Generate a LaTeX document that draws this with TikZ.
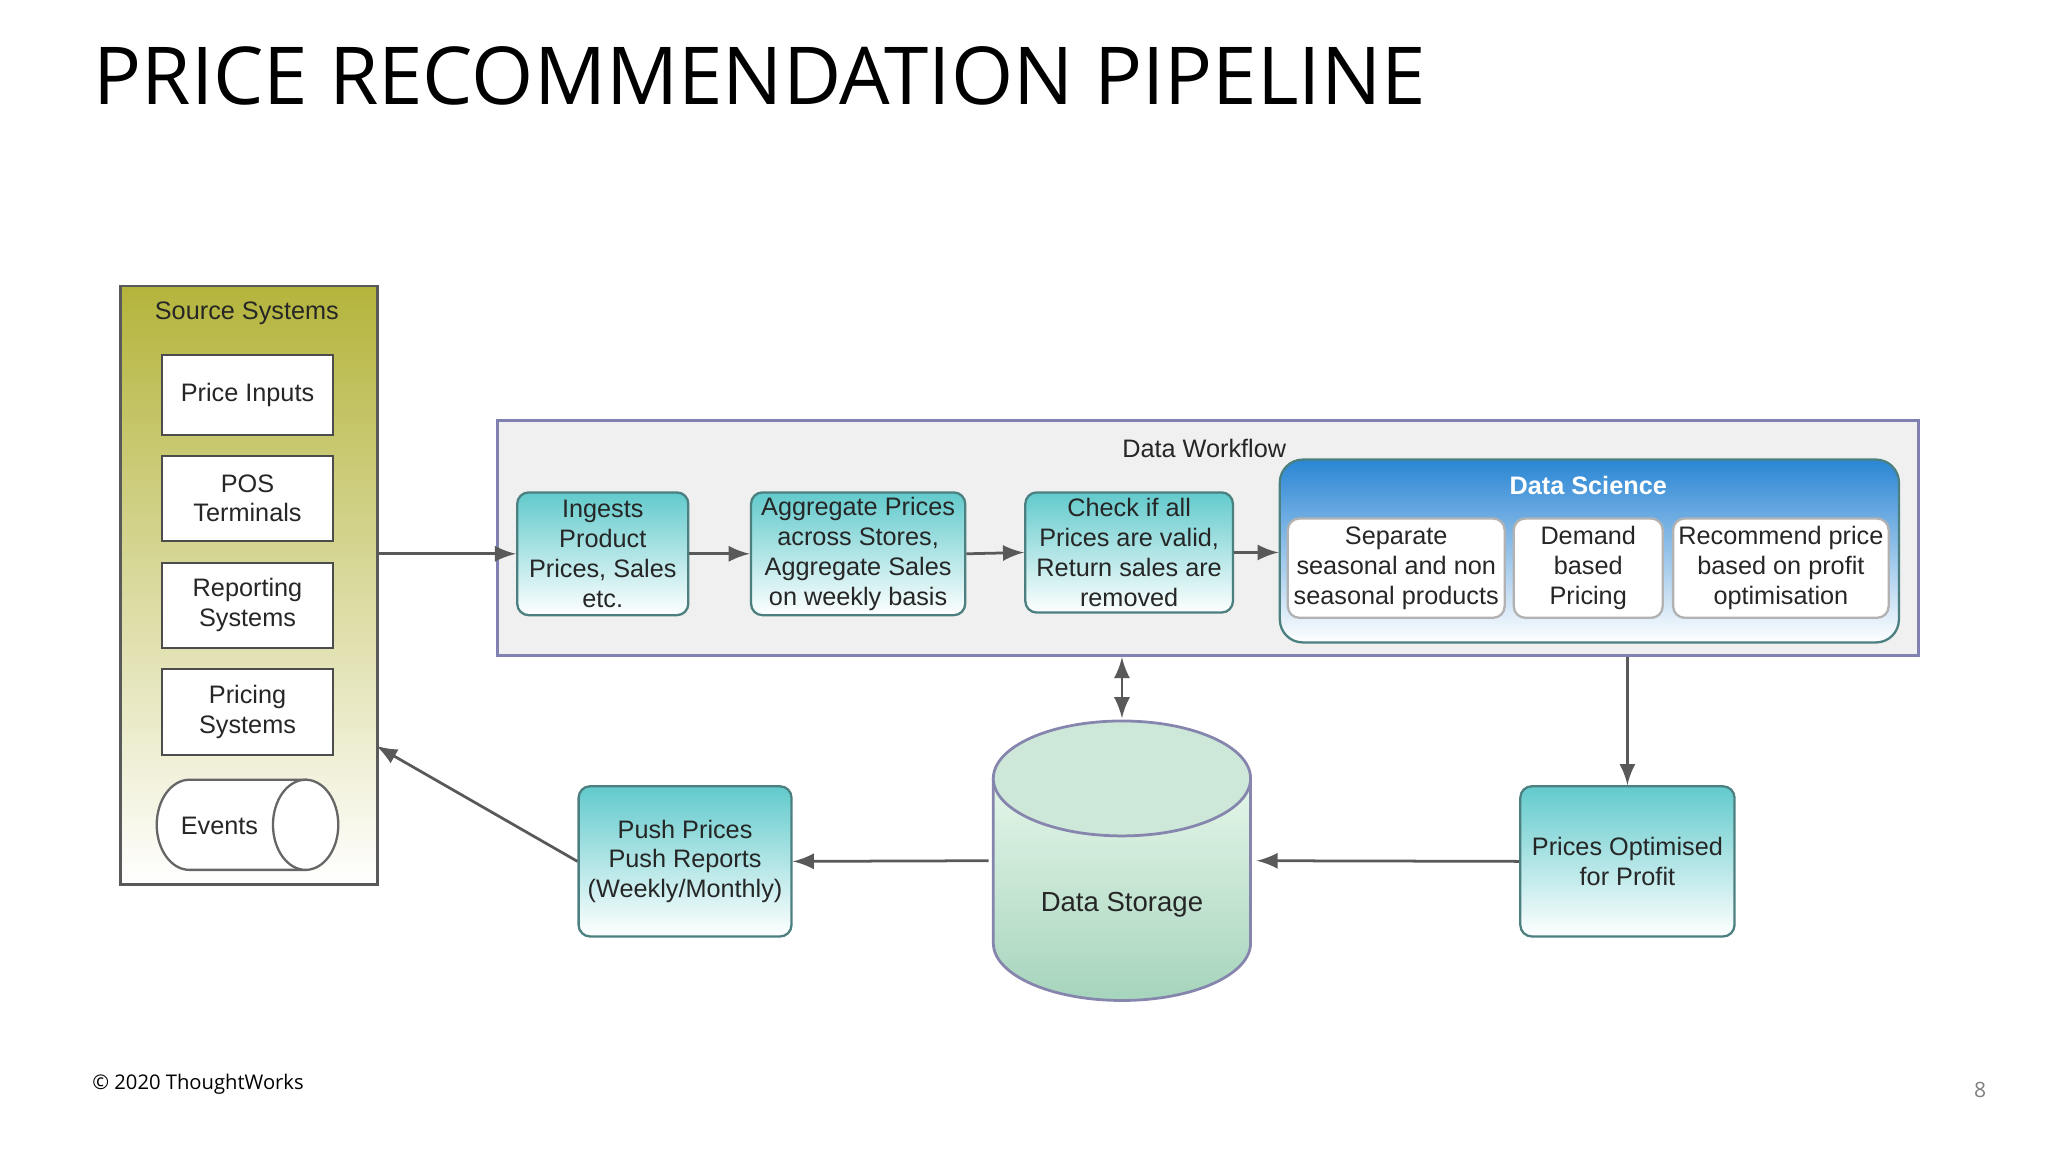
\documentclass[tikz,border=0pt]{standalone}
\usepackage{fontspec}
\setmainfont{Liberation Sans}
\newfontfamily\opensans{Open Sans}
\newdimen\un \un=0.01cm
\definecolor{olivetop}{HTML}{B4B43C}
\definecolor{dsblue}{HTML}{2A86D4}
\definecolor{tealtop}{HTML}{62CACC}
\definecolor{cylbot}{HTML}{A6D4BC}
\definecolor{cyltop}{HTML}{CDE7D8}
\begin{document}
\begin{tikzpicture}[x=0.01cm,y=-0.01cm,
  txt/.style={font=\fontsize{5.5}{6.5}\selectfont, align=center, text=black!85},
  src/.style={draw=black!70, fill=white, line width=0.5pt, txt},
  teal/.style={draw=teal!40!gray, rounded corners=2.5pt, top color=tealtop, bottom color=white, line width=0.5pt, txt, inner sep=1pt},
  ds/.style={draw=gray!60, rounded corners=2.5pt, fill=white, line width=0.5pt, txt, inner sep=1pt},
  arr/.style={-latex, draw=black!65, line width=0.6pt},
]
\useasboundingbox (0,0) rectangle (1568,882);
\node[anchor=base west, font=\opensans\fontsize{17.4}{20}\selectfont, inner sep=0] (title) at (71,80) {PRICE RECOMMENDATION PIPELINE};
% Source systems
\node[draw=black!65, line width=0.6pt, top color=olivetop, bottom color=white, minimum width=197\un, minimum height=458\un, anchor=north west, inner sep=0] (srcbox) at (91,218) {};
\node[txt] (srclab) at (189,240) {Source Systems};
\node[src, minimum width=131\un, minimum height=61\un] (pi) at (189.5,302.5) {Price Inputs};
\node[src, minimum width=131\un, minimum height=65\un] (pos) at (189.5,381.5) {POS\\Terminals};
\node[src, minimum width=131\un, minimum height=65\un] (rep) at (189.5,463.5) {Reporting\\Systems};
\node[src, minimum width=131\un, minimum height=66\un] (pri) at (189.5,545) {Pricing\\Systems};
\filldraw[draw=black!60, fill=white, line width=0.5pt] (145,597) -- (234,597) -- (234,666) -- (145,666) arc[start angle=90,end angle=270,x radius=25,y radius=34.5] -- cycle;
\filldraw[draw=black!60, fill=white, line width=0.5pt] (234,631.5) ellipse (25 and 34.5);
\node[txt] (ev) at (168,632) {Events};
% Data workflow
\node[draw=blue!25!gray!80, fill=gray!12, line width=0.5pt, minimum width=1088\un, minimum height=180\un, anchor=north west, inner sep=0] (wf) at (380,321) {};
\node[txt] (wflab) at (922,343) {Data Workflow};
\node[teal, minimum width=131\un, minimum height=94\un] (ing) at (461.5,424) {Ingests\\Product\\Prices, Sales\\etc.};
\node[teal, minimum width=164\un, minimum height=94\un] (agg) at (657,424) {Aggregate Prices\\across Stores,\\Aggregate Sales\\on weekly basis};
\node[teal, minimum width=159\un, minimum height=92\un] (chk) at (864.5,423) {Check if all\\Prices are valid,\\Return sales are\\removed};
\node[draw=teal!40!gray, rounded corners=5pt, top color=dsblue, bottom color=white, line width=0.5pt, minimum width=474\un, minimum height=140\un, anchor=north west, inner sep=0] (dsbox) at (979,351) {};
\node[txt, text=white, font=\bfseries\fontsize{5.5}{6.5}\selectfont] (dslab) at (1216,372) {Data Science};
\node[ds, minimum width=166\un, minimum height=76\un] (sep) at (1069,435) {Separate\\seasonal and non\\seasonal products};
\node[ds, minimum width=114\un, minimum height=76\un] (dem) at (1216,435) {Demand\\based\\Pricing};
\node[ds, minimum width=165\un, minimum height=76\un] (rec) at (1363.5,435) {Recommend price\\based on profit\\optimisation};
% Data storage
\fill[top color=green!4!white, bottom color=cylbot] (760.5,596) -- (760.5,722) arc[start angle=180,end angle=0,x radius=98.5,y radius=44] -- (957.5,596) arc[start angle=0,end angle=-180,x radius=98.5,y radius=44] -- cycle;
\draw[draw=blue!20!gray!80, line width=0.6pt] (760.5,596) -- (760.5,722) arc[start angle=180,end angle=0,x radius=98.5,y radius=44] -- (957.5,596);
\draw[draw=blue!20!gray!80, fill=cyltop, line width=0.6pt] (859,596) ellipse (98.5 and 44);
\node[txt, font=\fontsize{6}{7}\selectfont] (dstore) at (859,693) {Data Storage};
\coordinate (dstop) at (859,550);
\coordinate (dsright) at (962,659);
\coordinate (dsleft) at (757,659);
% bottom boxes
\node[teal, minimum width=164\un, minimum height=115\un] (opt) at (1246,659.5) {Prices Optimised\\for Profit};
\node[teal, minimum width=163\un, minimum height=115\un] (push) at (524.5,659.5) {Push Prices\\Push Reports\\(Weekly/Monthly)};
% arrows
\draw[arr] (srcbox.east |- ing.west) -- (ing.west);
\draw[arr] (ing.east) -- (agg.west);
\draw[arr] (agg.east) -- (chk.west);
\draw[arr] (chk.east) -- (dsbox.west |- chk.east);
\draw[latex-latex, draw=black!65, line width=0.6pt] (859,503) -- (dstop);
\draw[arr] (wf.south -| opt.north) -- (opt.north);
\draw[arr] (opt.west) -- (dsright);
\draw[arr] (dsleft) -- (push.east);
\coordinate (srcin) at (288,571);
\draw[arr] (push.west) -- (srcin);
% footer
\node[anchor=base west, font=\opensans\fontsize{4.4}{5}\selectfont, inner sep=0] (foot) at (70,834) {© 2020 ThoughtWorks};
\node[anchor=base, font=\opensans\fontsize{4.6}{5}\selectfont, text=gray, inner sep=0] (pg) at (1516,840) {8};
\end{tikzpicture}
\end{document}
